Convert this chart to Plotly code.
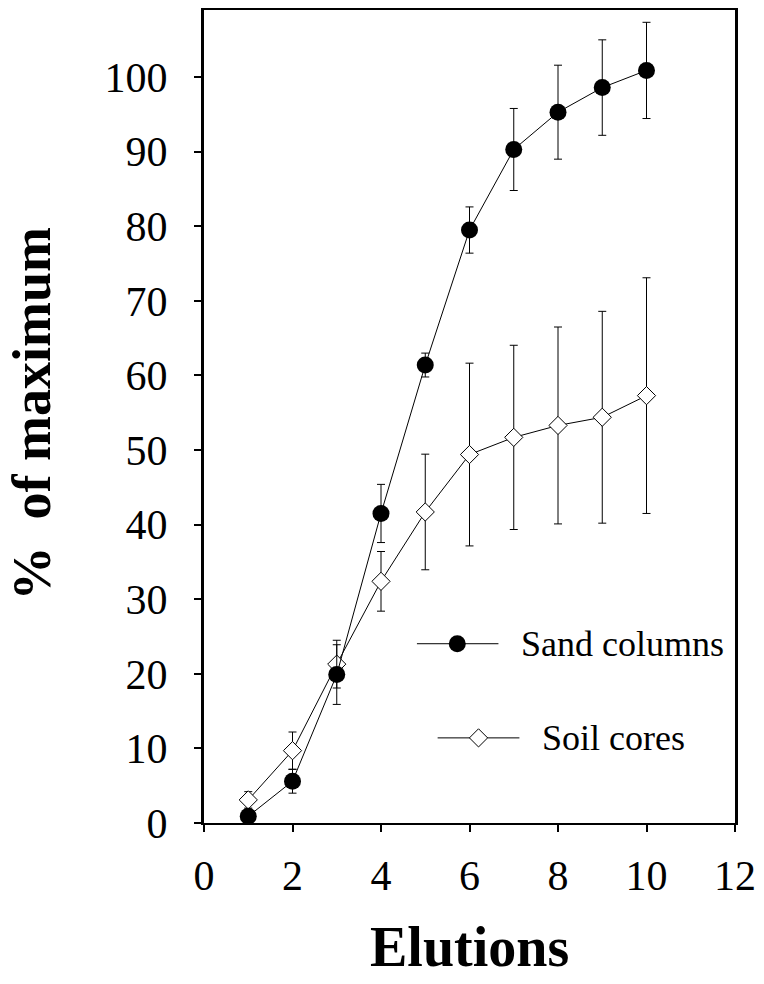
import plotly.graph_objects as go

# ---- data ----
elutions = [1, 2, 3, 4, 5, 6, 7, 8, 9, 10]
sand = [0.9, 5.6, 19.9, 41.5, 61.4, 79.5, 90.3, 95.3, 98.6, 100.9]
sand_err = [0.5, 1.6, 4.0, 3.9, 1.6, 3.1, 5.5, 6.3, 6.4, 6.45]
soil = [3.1, 9.7, 21.3, 32.4, 41.7, 49.4, 51.7, 53.3, 54.4, 57.3]
soil_err = [1.1, 2.5, 3.2, 4.0, 7.75, 12.25, 12.35, 13.2, 14.2, 15.8]

x_ticks = [0, 2, 4, 6, 8, 10, 12]
y_ticks = [0, 10, 20, 30, 40, 50, 60, 70, 80, 90, 100]

series_names = ["Sand columns", "Soil cores"]

FONT = "Liberation Serif"

fig = go.Figure()

# Soil cores (drawn first, beneath)
fig.add_trace(go.Scatter(
    x=elutions, y=soil, mode="lines+markers", name=series_names[1],
    line=dict(color="black", width=1),
    marker=dict(symbol="diamond", size=14, color="white",
                line=dict(color="black", width=1)),
    error_y=dict(type="data", array=soil_err, visible=True,
                 color="black", thickness=1, width=4),
    showlegend=False,
))

# Sand columns
fig.add_trace(go.Scatter(
    x=elutions, y=sand, mode="lines+markers", name=series_names[0],
    line=dict(color="black", width=1),
    marker=dict(symbol="circle", size=17, color="black",
                line=dict(color="black", width=0)),
    error_y=dict(type="data", array=sand_err, visible=True,
                 color="black", thickness=1, width=4),
    showlegend=False,
))

# ---- manual legend on an overlay axis (fractions of plot area) ----
leg_y = [0.2205, 0.1047]
leg_line_x = [[0.401, 0.5545], [0.440, 0.594]]
leg_marker_x = [0.477, 0.517]
leg_text_x = [0.594, 0.633]
leg_symbols = [dict(symbol="circle", size=17, color="black", line=dict(color="black", width=0)),
               dict(symbol="diamond", size=14, color="white", line=dict(color="black", width=1))]

for i in range(2):
    fig.add_trace(go.Scatter(
        x=leg_line_x[i], y=[leg_y[i], leg_y[i]], mode="lines",
        line=dict(color="black", width=1), xaxis="x2", yaxis="y2",
        showlegend=False, hoverinfo="skip"))
    fig.add_trace(go.Scatter(
        x=[leg_marker_x[i]], y=[leg_y[i]], mode="markers",
        marker=leg_symbols[i], xaxis="x2", yaxis="y2",
        showlegend=False, hoverinfo="skip"))
    fig.add_annotation(
        x=leg_text_x[i], y=leg_y[i], xref="x2", yref="y2",
        text=series_names[i], showarrow=False, xanchor="left", yanchor="middle",
        font=dict(family=FONT, size=36, color="black"))

# axis titles
fig.add_annotation(
    x=0.5, y=-0.153, xref="paper", yref="paper", text="<b>Elutions</b>",
    showarrow=False, xanchor="center", yanchor="middle",
    font=dict(family=FONT, size=56, color="black"))
fig.add_annotation(
    x=-0.323, y=0.503, xref="paper", yref="paper",
    text="<b>%\u00a0\u00a0of maximum</b>", textangle=-90,
    showarrow=False, xanchor="center", yanchor="middle",
    font=dict(family=FONT, size=54, color="black"))

fig.update_layout(
    width=764, height=984,
    margin=dict(l=204, r=28, t=8, b=161),
    paper_bgcolor="white", plot_bgcolor="white",
    font=dict(family=FONT, color="black"),
    showlegend=False,
    xaxis=dict(
        range=[0, 12], tickvals=x_ticks, ticktext=[str(v) for v in x_ticks],
        showgrid=False, zeroline=False,
        showline=True, linecolor="black", linewidth=2, mirror=True,
        ticks="outside", ticklen=7, tickwidth=2, tickcolor="black",
        tickfont=dict(family=FONT, size=42, color="black"),
        ticklabelstandoff=8,
    ),
    yaxis=dict(
        range=[0, 109], tickvals=y_ticks, ticktext=[str(v) for v in y_ticks],
        showgrid=False, zeroline=False,
        showline=True, linecolor="black", linewidth=3, mirror=True,
        ticks="outside", ticklen=7, tickwidth=2, tickcolor="black",
        tickfont=dict(family=FONT, size=42, color="black"),
        ticklabelstandoff=18,
    ),
    xaxis2=dict(range=[0, 1], overlaying="x", visible=False, fixedrange=True),
    yaxis2=dict(range=[0, 1], overlaying="y", visible=False, fixedrange=True),
)

fig.write_html("out.html")
